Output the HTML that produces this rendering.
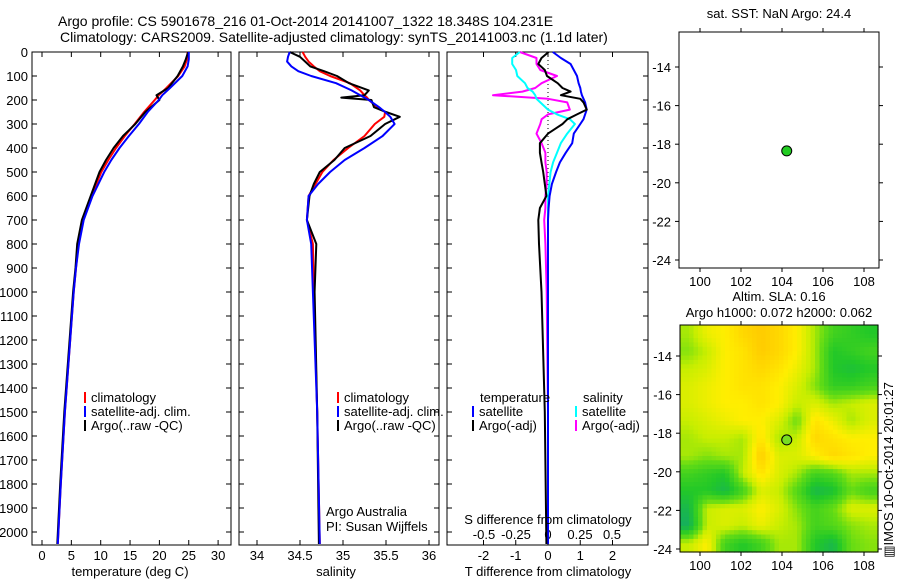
<!DOCTYPE html>
<html><head><meta charset="utf-8"><style>
body{margin:0;background:#fff}
svg{display:block;font-family:"Liberation Sans",sans-serif}
text{font-size:13px;fill:#000}
</style></head><body>
<svg id="c" width="900" height="580" viewBox="0 0 900 580">
<text x="58" y="26" style="font-size:14px">Argo profile: CS 5901678_216 01-Oct-2014 20141007_1322 18.348S 104.231E</text>
<text x="60" y="42" style="font-size:14px">Climatology: CARS2009. Satellite-adjusted climatology: synTS_20141003.nc (1.1d later)</text>
<text x="779" y="18" text-anchor="middle">sat. SST: NaN Argo: 24.4</text>
<text x="779" y="301" text-anchor="middle">Altim. SLA: 0.16</text>
<text x="779" y="317" text-anchor="middle">Argo h1000: 0.072 h2000: 0.062</text>
<text x="0" y="0" transform="translate(893,470) rotate(-90)" text-anchor="middle">▥IMOS 10-Oct-2014 20:01:27</text>
</svg>
<script>
const depthTicks=[0,100,200,300,400,500,600,700,800,900,1000,1100,1200,1300,1400,1500,1600,1700,1800,1900,2000];
const tTicks=[0,5,10,15,20,25,30];
const sTicks=[34,34.5,35,35.5,36];
const dtTicks=[-2,-1,0,1,2];
const dsTicks=[-0.5,-0.25,0,0.25,0.5];
const dsTickLabels=["-0.5","-0.25","0","0.25","0.5"];
// temperature profiles
const tDepth=[0,30,60,100,150,180,200,250,300,350,400,450,500,600,700,800,900,1000,1200,1500,1800,2050];
const tClim=[24.8,24.7,24.3,23.2,21.2,19.9,19.2,17.4,15.8,14.1,12.6,11.3,10.1,8.4,7.0,6.2,5.8,5.4,4.8,3.9,3.2,2.7];
const tSat=[25.0,25.0,24.8,23.9,21.8,20.5,19.9,18.0,16.5,14.8,13.2,11.8,10.6,8.6,7.1,6.3,5.8,5.4,4.8,3.9,3.2,2.7];
const tArgo=[24.9,24.5,24.0,23.1,21.5,19.5,20.0,17.6,15.9,13.8,12.2,10.9,9.8,8.3,6.8,6.0,5.7,5.3,4.7,3.8,3.1,2.6];
// salinity profiles
const sDepth=[0,20,40,60,80,100,130,160,180,190,200,230,250,270,300,350,400,450,500,550,600,700,800,1000,1500,2050];
const sClim=[34.53,34.56,34.60,34.66,34.73,34.85,35.08,35.20,35.25,35.28,35.30,35.40,35.49,35.48,35.37,35.25,35.06,34.89,34.76,34.68,34.60,34.58,34.65,34.66,34.70,34.73];
const sSat=[34.38,34.36,34.35,34.40,34.48,34.63,34.92,35.10,35.20,35.25,35.30,35.42,35.49,35.55,35.60,35.46,35.25,35.02,34.85,34.71,34.60,34.58,34.63,34.65,34.70,34.73];
const sArgo=[34.38,34.50,34.56,34.62,34.78,34.93,35.07,35.30,35.25,34.98,35.33,35.36,35.50,35.66,35.49,35.32,35.02,34.90,34.73,34.66,34.61,34.58,34.69,34.67,34.70,34.72];
// difference profiles
const dDepth=[0,25,50,75,100,130,150,165,180,195,210,240,260,280,300,340,380,420,460,500,550,600,650,700,800,1000,1500,2050];
const dtSat=[0.15,0.4,0.7,0.8,0.9,0.95,1.0,1.02,1.05,1.1,1.15,1.2,1.15,1.1,1.0,0.8,0.75,0.55,0.37,0.25,0.12,0.05,0.02,0,0,0,0,0];
const dtArgo=[0.02,-0.2,-0.3,-0.1,-0.03,0.3,0.45,0.7,0.4,1.0,1.1,1.2,0.9,0.6,0.45,0.0,-0.25,-0.25,-0.2,-0.15,-0.1,-0.05,-0.25,-0.3,-0.28,-0.2,-0.1,-0.05];
const dsSat=[-0.22,-0.28,-0.28,-0.25,-0.24,-0.18,-0.16,-0.12,-0.1,-0.09,-0.06,0.0,0.07,0.17,0.21,0.15,0.1,0.07,0.04,0.02,0.01,0,0,0,0,0,0,0];
const dsArgo=[-0.22,-0.09,-0.09,-0.06,0.07,-0.05,-0.1,-0.2,-0.43,0.0,0.15,0.17,0.0,-0.05,-0.06,-0.09,-0.05,-0.02,-0.02,-0.01,-0.01,-0.02,-0.02,-0.03,-0.02,-0.01,0,0];
// maps
const lonTicks=[100,102,104,106,108];
const latTicks=[-14,-16,-18,-20,-22,-24];
const argoLon=104.231, argoLat=-18.348;
const slaGrid=[
[0.5,0.65,0.7,0.8,0.85,0.8,0.7,0.5,0.3,0.25,0.2],
[0.45,0.55,0.7,0.75,0.85,0.8,0.7,0.5,0.2,0.25,0.3],
[0.55,0.6,0.7,0.75,0.8,0.75,0.65,0.5,0.2,0.15,0.2],
[0.6,0.65,0.7,0.75,0.75,0.7,0.6,0.45,0.25,0.25,0.3],
[0.6,0.65,0.7,0.7,0.75,0.7,0.55,0.6,0.5,0.55,0.6],
[0.55,0.6,0.65,0.7,0.7,0.6,0.4,0.75,0.65,0.5,0.6],
[0.5,0.55,0.55,0.5,0.75,0.5,0.55,0.8,0.75,0.7,0.7],
[0.5,0.45,0.5,0.5,0.85,0.6,0.6,0.7,0.8,0.75,0.7],
[0.3,0.25,0.2,0.55,0.75,0.6,0.5,0.3,0.35,0.5,0.5],
[0.2,0.2,0.1,0.3,0.6,0.55,0.35,0.1,0.15,0.4,0.3],
[0.1,0.55,0.6,0.6,0.7,0.6,0.45,0.3,0.4,0.6,0.6],
[0.05,0.55,0.6,0.55,0.65,0.55,0.5,0.3,0.35,0.45,0.5],
[0.55,0.7,0.3,0.2,0.3,0.5,0.5,0.2,0.1,0.4,0.45]];

const NS='http://www.w3.org/2000/svg';
const svg=document.getElementById('c');
function mk(tag,at,parent){const e=document.createElementNS(NS,tag);for(const k in at)e.setAttribute(k,at[k]);(parent||svg).appendChild(e);return e;}
function txt(x,y,s,anchor){const e=mk('text',{x:x,y:y,'text-anchor':anchor||'middle'});e.textContent=s;return e;}

const Y0=52, DY=0.24, YB=545;
const yD=d=>Y0+d*DY;
const xT=v=>42+v*5.87;
const xS=v=>257+(v-34)*86;
const xDT=v=>548+v*32.25;
const xDS=v=>548+v*128;

function panel(L,R,name){
  const r=mk('rect',{x:L,y:Y0,width:R-L,height:YB-Y0,fill:'none',stroke:'#000','stroke-width':1});
  
  
  depthTicks.forEach(d=>{
    mk('line',{x1:L,x2:L+5,y1:yD(d),y2:yD(d),stroke:'#000'});
    mk('line',{x1:R-5,x2:R,y1:yD(d),y2:yD(d),stroke:'#000'});
  });
}
function xticks(ticks,fx,labels,ly){
  ticks.forEach((t,i)=>{
    const x=fx(t);
    mk('line',{x1:x,x2:x,y1:YB,y2:YB-5,stroke:'#000'});
    mk('line',{x1:x,x2:x,y1:Y0,y2:Y0+5,stroke:'#000'});
    if(labels){const e=txt(x,ly,labels[i]);
      
      }
  });
}
function line(xs,ds,fx,color,name,w){
  const p=xs.map((v,i)=>fx(v).toFixed(1)+','+yD(ds[i]).toFixed(1)).join(' ');
  const e=mk('polyline',{points:p,fill:'none',stroke:color,'stroke-width':w||2,'stroke-linejoin':'round'});
  
  
}
function legend(x,y,color,label){
  const g=mk('g',{});
  
  
  mk('rect',{x:x,y:y-10,width:2,height:11,fill:color},g);
  const t=mk('text',{x:x+7,y:y,'text-anchor':'start'},g);t.textContent=label;
}

// Panel 1
panel(32,231,'temperature-panel');
depthTicks.forEach(d=>{const e=txt(28,yD(d)+5,String(d),'end');
  
  });
xticks(tTicks,xT,tTicks.map(String),560);
line(tClim,tDepth,xT,'#f00','temperature-climatology-line');
line(tArgo,tDepth,xT,'#000','temperature-argo-line');
line(tSat,tDepth,xT,'#00f','temperature-satellite-line');
{const e=txt(130,576,'temperature (deg C)');}
legend(84,402,'#f00','climatology');
legend(84,416,'#00f','satellite-adj. clim.');
legend(84,430,'#000','Argo(..raw -QC)');

// Panel 2
panel(239,439,'salinity-panel');
xticks(sTicks,xS,['34','34.5','35','35.5','36'],560);
line(sClim,sDepth,xS,'#f00','salinity-climatology-line');
line(sArgo,sDepth,xS,'#000','salinity-argo-line');
line(sSat,sDepth,xS,'#00f','salinity-satellite-line');
{const e=txt(336,576,'salinity');}
legend(337,402,'#f00','climatology');
legend(337,416,'#00f','satellite-adj. clim.');
legend(337,430,'#000','Argo(..raw -QC)');
txt(326,516,'Argo Australia','start');
txt(326,531,'PI: Susan Wijffels','start');

// Panel 3
panel(447,648,'difference-panel');
xticks(dtTicks,xDT,dtTicks.map(String),560);
dsTicks.forEach((t,i)=>{const e=txt(xDS(t),539,dsTickLabels[i]);});
mk('line',{x1:548,x2:548,y1:Y0,y2:YB,stroke:'#000','stroke-dasharray':'1,3'});
line(dsArgo,dDepth,xDS,'#f0f','salinity-argo-diff-line');
line(dsSat,dDepth,xDS,'#0ff','salinity-satellite-diff-line');
line(dtSat,dDepth,xDT,'#00f','temperature-satellite-diff-line');
line(dtArgo,dDepth,xDT,'#000','temperature-argo-diff-line');
txt(548,524,'S difference from climatology');
{const e=txt(548,576,'T difference from climatology');}
txt(480,402,'temperature','start');
txt(583,402,'salinity','start');
legend(472,416,'#00f','satellite');
legend(472,430,'#000','Argo(-adj)');
legend(575,416,'#0ff','satellite');
legend(575,430,'#f0f','Argo(-adj)');

// Maps
function mapAxes(L,T,R,B,fx,fy,name){
  const r=mk('rect',{x:L,y:T,width:R-L,height:B-T,fill:'none',stroke:'#000'});
  
  
  lonTicks.forEach(v=>{const x=fx(v);
    mk('line',{x1:x,x2:x,y1:B,y2:B+4,stroke:'#000'});mk('line',{x1:x,x2:x,y1:T,y2:T-4,stroke:'#000'});
    const e=txt(x,B+18,String(v));});
  latTicks.forEach(v=>{const y=fy(v);
    mk('line',{x1:L,x2:L-4,y1:y,y2:y,stroke:'#000'});mk('line',{x1:R,x2:R+4,y1:y,y2:y,stroke:'#000'});
    const e=txt(L-8,y+5,String(v),'end');});
}
const fx=v=>700+(v-100)*20.5;
const fy1=v=>67+(-14-v)*19.3;
const fy2=v=>356+(-14-v)*19.3;

// SLA heatmap (bilinear-smoothed rendering of grid)
function cmap(v){
  const stops=[[0,[17,168,110]],[0.2,[34,200,40]],[0.4,[100,220,20]],[0.55,[200,238,0]],[0.7,[255,238,0]],[0.85,[255,204,0]],[1,[245,166,35]]];
  for(let i=1;i<stops.length;i++){if(v<=stops[i][0]){const a=stops[i-1],b=stops[i],t=(v-a[0])/(b[0]-a[0]);
    return 'rgb('+a[1].map((c,k)=>Math.round(c+(b[1][k]-c)*t)).join(',')+')';}}
  return 'rgb(245,166,35)';
}
const ML=680,MT=325,MR=878,MB=552;
const nr=slaGrid.length,nc=slaGrid[0].length;
function sample(r,c){
  r=Math.max(0,Math.min(nr-1,r));c=Math.max(0,Math.min(nc-1,c));
  const r0=Math.floor(r),c0=Math.floor(c),r1=Math.min(nr-1,r0+1),c1=Math.min(nc-1,c0+1),fr=r-r0,fc=c-c0;
  return slaGrid[r0][c0]*(1-fr)*(1-fc)+slaGrid[r0][c1]*(1-fr)*fc+slaGrid[r1][c0]*fr*(1-fc)+slaGrid[r1][c1]*fr*fc;
}
const SUB=4,NR=nr*SUB,NC=nc*SUB,cw=(MR-ML)/NC,ch=(MB-MT)/NR;
const hm=mk('g',{});


for(let i=0;i<NR;i++)for(let j=0;j<NC;j++){
  const v=sample((i+0.5)/SUB-0.5,(j+0.5)/SUB-0.5);
  mk('rect',{x:(ML+j*cw).toFixed(2),y:(MT+i*ch).toFixed(2),width:(cw+0.6).toFixed(2),height:(ch+0.6).toFixed(2),fill:cmap(v)},hm);
}
mapAxes(679,32,879,268,fx,fy1,'sst-map');
mapAxes(ML,MT,MR,MB,fx,fy2,'sla-map');
{const c=mk('circle',{cx:fx(argoLon),cy:fy1(argoLat),r:5,fill:'#2c2',stroke:'#000'});
 }
{const c=mk('circle',{cx:fx(argoLon),cy:fy2(argoLat),r:5,fill:'#7d2',stroke:'#000'});
 }
</script>
</body></html>
